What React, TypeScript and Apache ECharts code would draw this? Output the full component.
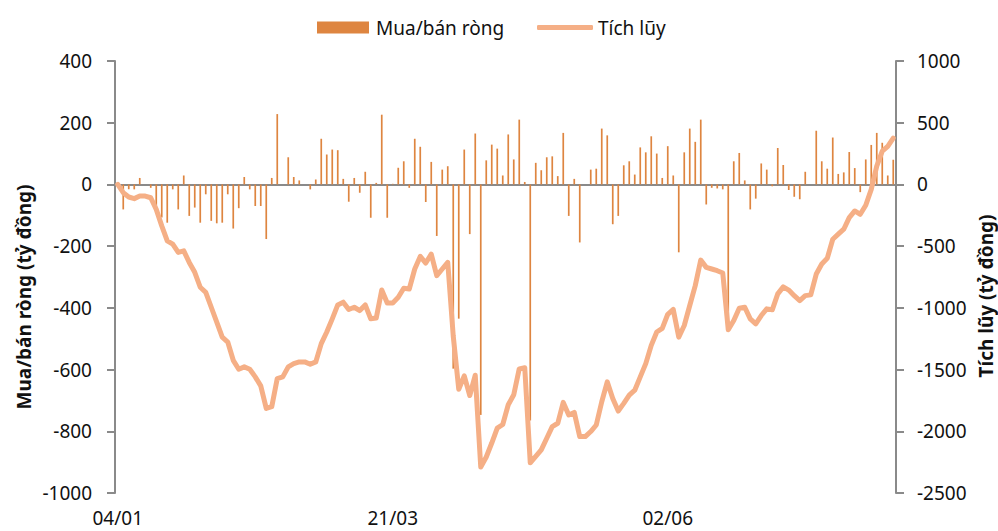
import React, { useEffect, useRef } from "react";
import * as echarts from "echarts";

const DATES: string[] = (
  "04/01 05/01 06/01 07/01 10/01 11/01 12/01 13/01 14/01 17/01 18/01 19/01 20/01 21/01 24/01 25/01 26/01 27/01 28/01 31/01 " +
  "07/02 08/02 09/02 10/02 11/02 14/02 15/02 16/02 17/02 18/02 21/02 22/02 23/02 24/02 25/02 28/02 " +
  "01/03 02/03 03/03 04/03 07/03 08/03 09/03 10/03 11/03 14/03 15/03 16/03 17/03 18/03 21/03 22/03 23/03 24/03 25/03 28/03 29/03 30/03 31/03 " +
  "01/04 04/04 05/04 06/04 07/04 08/04 12/04 13/04 14/04 15/04 18/04 19/04 20/04 21/04 22/04 25/04 26/04 27/04 28/04 29/04 " +
  "04/05 05/05 06/05 09/05 10/05 11/05 12/05 13/05 16/05 17/05 18/05 19/05 20/05 23/05 24/05 25/05 26/05 27/05 30/05 31/05 " +
  "01/06 02/06 03/06 06/06 07/06 08/06 09/06 10/06 13/06 14/06 15/06 16/06 17/06 20/06 21/06 22/06 23/06 24/06 27/06 28/06 29/06 30/06 " +
  "01/07 04/07 05/07 06/07 07/07 08/07 11/07 12/07 13/07 14/07 15/07 18/07 19/07 20/07 21/07 22/07 25/07 26/07 27/07 28/07 29/07"
).split(" ");

const NET: number[] = [
  0, -81, -16, -16, 21, 0, -11, -90, -107, -124,
  -16, -81, 29, -102, -75, -124, -32, -118, -126, -124,
  -32, -143, -77, 24, -16, -70, -70, -177, 21, 228,
  0, 88, 24, 13, 0, -16, 16, 148, 97, 113,
  111, 18, -56, 21, -27, 41, -108, 5, 226, -108,
  2, 54, 75, -11, 148, 122, -57, 73, -167, 48,
  59, -597, -435, 113, -161, 165, -747, 78, 129, 116,
  29, 162, 81, 210, 8, -765, 70, 46, 88, 91,
  27, 167, -102, 18, -188, 0, 48, 51, 181, 159,
  -129, -102, 62, 75, 32, 120, 104, 156, 100, 21,
  124, 29, -220, 104, 181, 138, 210, -65, -11, -13,
  -16, -470, 75, 102, 13, -81, -46, 68, 48, -6,
  118, 63, -18, -40, -48, 41, 0, 174, 75, 51,
  152, 34, 39, 105, 53, -25, 81, 128, 167, 135,
  29, 80,
];

const CUMULATIVE: number[] = [
  0, -67, -102, -115, -94, -94, -108, -202, -336, -457,
  -484, -551, -538, -632, -712, -833, -874, -995, -1115, -1237,
  -1277, -1425, -1497, -1478, -1497, -1559, -1632, -1815, -1801, -1573,
  -1559, -1478, -1452, -1438, -1438, -1457, -1438, -1290, -1196, -1089,
  -976, -954, -1013, -995, -1022, -976, -1089, -1083, -855, -960,
  -960, -914, -841, -847, -685, -583, -637, -565, -739, -685,
  -632, -1229, -1660, -1551, -1710, -1546, -2290, -2208, -2095, -1974,
  -1945, -1785, -1704, -1494, -1485, -2255, -2204, -2151, -2056, -1962,
  -1935, -1766, -1868, -1847, -2043, -2043, -2002, -1949, -1761, -1599,
  -1734, -1836, -1774, -1707, -1667, -1559, -1452, -1304, -1196, -1166,
  -1052, -1013, -1237, -1143, -981, -820, -613, -672, -685, -699,
  -718, -1177, -1102, -1003, -995, -1089, -1129, -1062, -1008, -1016,
  -887, -830, -856, -901, -941, -901, -895, -726, -645, -599,
  -444, -403, -363, -269, -215, -242, -169, -40, 148, 269,
  309, 376,
];

const SERIES_NAMES = ["Mua/bán ròng", "Tích lũy"];
const AXIS_TITLES = ["Mua/bán ròng (tỷ đồng)", "Tích lũy (tỷ đồng)"];

const FONT = "'Noto Sans', 'Open Sans', sans-serif";
const AXIS_GREY = "#8a8a8a";
const BAR_COLOR = "#DE8540";
const LINE_COLOR = "#F5AF86";

export default function App() {
  const ref = useRef<HTMLDivElement>(null);

  useEffect(() => {
    if (!ref.current) return;
    const chart = echarts.init(ref.current, undefined, { renderer: "svg" });
    const labelStyle = { fontSize: 19, color: "#111", fontFamily: FONT };
    const plain = (v: number) => String(v);
    chart.setOption({
      animation: false,
      textStyle: { fontFamily: FONT },
      grid: { left: 115, right: 102, top: 61, bottom: 38 },
      legend: [
        {
          data: [{ name: SERIES_NAMES[0], icon: "rect" }],
          left: 317,
          top: 18,
          padding: 0,
          itemWidth: 52,
          itemHeight: 12,
          textStyle: { ...labelStyle, padding: [0, 0, 0, 2] },
        },
        {
          data: [{ name: SERIES_NAMES[1], icon: "roundRect" }],
          left: 537,
          top: 18,
          padding: 0,
          itemWidth: 56,
          itemHeight: 5,
          textStyle: { ...labelStyle },
        },
      ],
      xAxis: [
        {
          type: "category",
          data: DATES,
          boundaryGap: true,
          position: "bottom",
          axisLine: { show: false, onZero: false },
          axisTick: { show: false },
          axisLabel: { ...labelStyle, interval: 49, margin: 15, lineHeight: 19 },
          splitLine: { show: false },
        },
        {
          type: "category",
          data: DATES,
          boundaryGap: true,
          position: "bottom",
          axisLine: {
            show: true,
            onZero: true,
            onZeroAxisIndex: 0,
            lineStyle: { color: AXIS_GREY, width: 2 },
          },
          axisTick: { show: false },
          axisLabel: { show: false },
          splitLine: { show: false },
        },
      ],
      yAxis: [
        {
          type: "value",
          position: "left",
          min: -1000,
          max: 400,
          interval: 200,
          axisLine: { show: true, lineStyle: { color: AXIS_GREY, width: 2 } },
          axisTick: {
            show: true,
            inside: false,
            length: 8,
            lineStyle: { color: AXIS_GREY, width: 2 },
          },
          axisLabel: { ...labelStyle, margin: 23, formatter: plain },
          splitLine: { show: false },
        },
        {
          type: "value",
          position: "right",
          min: -2500,
          max: 1000,
          interval: 500,
          axisLine: { show: true, lineStyle: { color: AXIS_GREY, width: 2 } },
          axisTick: {
            show: true,
            inside: false,
            length: 8,
            lineStyle: { color: AXIS_GREY, width: 2 },
          },
          axisLabel: { ...labelStyle, margin: 21, formatter: plain },
          splitLine: { show: false },
        },
      ],
      graphic: [
        {
          type: "text",
          x: 24,
          y: 297,
          rotation: Math.PI / 2,
          style: {
            text: AXIS_TITLES[0],
            fontSize: 19,
            fontWeight: "bold",
            fontFamily: FONT,
            fill: "#111",
            align: "center",
            verticalAlign: "middle",
          },
        },
        {
          type: "text",
          x: 986,
          y: 296,
          rotation: Math.PI / 2,
          style: {
            text: AXIS_TITLES[1],
            fontSize: 19,
            fontWeight: "bold",
            fontFamily: FONT,
            fill: "#111",
            align: "center",
            verticalAlign: "middle",
          },
        },
      ],
      series: [
        {
          name: SERIES_NAMES[0],
          type: "bar",
          xAxisIndex: 0,
          yAxisIndex: 0,
          data: NET,
          barWidth: 1.7,
          itemStyle: { color: BAR_COLOR },
          z: 2,
        },
        {
          name: SERIES_NAMES[1],
          type: "line",
          xAxisIndex: 0,
          yAxisIndex: 1,
          data: CUMULATIVE,
          symbol: "none",
          itemStyle: { color: LINE_COLOR },
          lineStyle: { color: LINE_COLOR, width: 5, cap: "round", join: "round" },
          z: 3,
        },
      ],
    });
    return () => chart.dispose();
  }, []);

  return (
    <div
      ref={ref}
      style={{ position: "absolute", left: 0, top: 0, width: 998, height: 531 }}
    />
  );
}
